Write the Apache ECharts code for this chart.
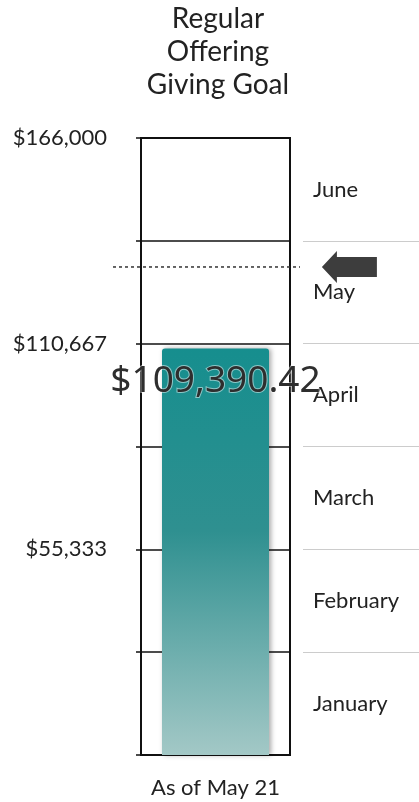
<!DOCTYPE html>
<html>
<head>
<meta charset="utf-8">
<script src="https://cdn.jsdelivr.net/npm/echarts@6/dist/echarts.min.js"></script>
<style>html,body{margin:0;padding:0;background:#fff;}#c{width:419px;height:802px;}</style>
</head>
<body>
<div id="c"></div>
<script>
const titleText = 'Regular\nOffering\nGiving Goal';
const categories = ['As of May 21'];
const raisedValues = [109390.42];
const goalMax = 166000;
const goalToDate = 131300;
const months = ['January', 'February', 'March', 'April', 'May', 'June'];
const yTickLabels = ['', '', '$55,333', '', '$110,667', '', '$166,000'];

const step = goalMax / months.length;
const font = 'Lato, "Noto Sans", sans-serif';
const chart = echarts.init(document.getElementById('c'), null, {renderer: 'canvas'});

chart.setOption({
  animation: false,
  title: {
    text: titleText,
    left: 213, top: -3, textAlign: 'center',
    textStyle: {fontFamily: font, fontSize: 28, fontWeight: 'normal', color: '#222', lineHeight: 33}
  },
  grid: [
    {left: 141, right: 129, top: 138, bottom: 47, show: true, borderColor: '#111', borderWidth: 2, backgroundColor: 'transparent'},
    {left: 303, right: 0, top: 138, bottom: 47},
    {left: 113, right: 119, top: 138, bottom: 47}
  ],
  xAxis: [
    {gridIndex: 0, type: 'category', data: categories,
     axisLine: {show: true, lineStyle: {color: '#111', width: 2}},
     axisTick: {show: false},
     axisLabel: {fontFamily: font, fontSize: 22, color: '#222', margin: 22}},
    {gridIndex: 1, type: 'value', min: 0, max: 1, show: false},
    {gridIndex: 2, type: 'value', min: 0, max: 1, show: false}
  ],
  yAxis: [
    {gridIndex: 0, type: 'value', min: 0, max: goalMax, interval: step,
     axisLine: {show: true, lineStyle: {color: '#111', width: 2}},
     axisTick: {show: true, length: 5, lineStyle: {color: '#111', width: 1.5}},
     splitLine: {show: true, lineStyle: {color: '#111', width: 1.5}},
     axisLabel: {fontFamily: font, fontSize: 22, color: '#222', margin: 34,
       formatter: (v, i) => yTickLabels[i] || ''}},
    {gridIndex: 1, type: 'value', min: 0, max: goalMax, interval: step,
     axisLine: {show: false}, axisTick: {show: false}, axisLabel: {show: false},
     splitLine: {show: true, showMinLine: false, showMaxLine: false, lineStyle: {color: '#cccccc', width: 1}}},
    {gridIndex: 1, type: 'category', data: months, position: 'left',
     axisLine: {show: false}, axisTick: {show: false}, splitLine: {show: false},
     axisLabel: {inside: true, margin: 10, fontFamily: font, fontSize: 22, color: '#222'}},
    {gridIndex: 2, type: 'value', min: 0, max: goalMax, show: false}
  ],
  series: [
    {
      type: 'bar', xAxisIndex: 0, yAxisIndex: 0, data: raisedValues, barWidth: 107,
      itemStyle: {
        borderRadius: [3, 3, 0, 0],
        shadowBlur: 5, shadowColor: 'rgba(0,0,0,0.35)', shadowOffsetX: 2, shadowOffsetY: 0,
        color: new echarts.graphic.LinearGradient(0, 0, 0, 1, [
          {offset: 0, color: '#168e8e'},
          {offset: 0.45, color: '#2f9090'},
          {offset: 1, color: '#a3c8c6'}
        ])
      },
      label: {
        show: true, position: 'insideTop', distance: 15,
        formatter: p => '$' + p.value.toLocaleString('en-US', {minimumFractionDigits: 2, maximumFractionDigits: 2}),
        fontFamily: '"Noto Sans", "Open Sans", sans-serif', fontSize: 37, color: '#2e2e2e',
        textBorderColor: 'rgba(255,255,255,0.5)', textBorderWidth: 2
      }
    },
    {
      type: 'line', xAxisIndex: 2, yAxisIndex: 3,
      data: [[0, goalToDate], [1, goalToDate]],
      symbol: 'none',
      lineStyle: {color: '#333', width: 1.5, type: [3, 3]}
    },
    {
      type: 'scatter', xAxisIndex: 1, yAxisIndex: 1,
      data: [[0.4, goalToDate]],
      symbol: 'path://M0 16 L15 0 L15 6 L55 6 L55 26 L15 26 L15 32 Z',
      symbolSize: [55, 32],
      itemStyle: {color: '#3d3d3d', opacity: 1}
    }
  ]
});
</script>
</body>
</html>
